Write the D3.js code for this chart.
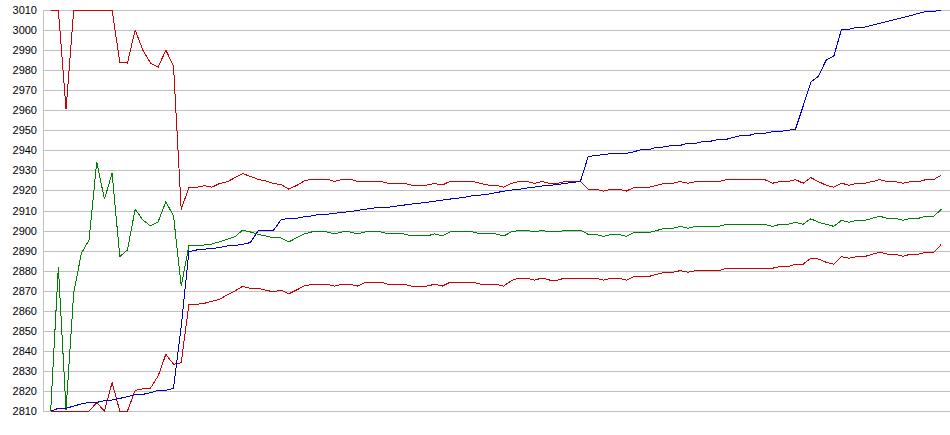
<!DOCTYPE html>
<html>
<head>
<meta charset="utf-8">
<script src="https://cdn.jsdelivr.net/npm/d3@7"></script>
<style>
  body { margin: 0; background: #fff; }
  .axis text { font-family: "Liberation Sans", Arial, sans-serif; font-size: 11px; fill: #000; }
  .axis line, .axis path { stroke: #c0c0c0; shape-rendering: crispEdges; }
  .series { fill: none; stroke-width: 1; shape-rendering: crispEdges; }
</style>
</head>
<body>
<script>
// tick labels on the value axis
var yTicks = [2810, 2820, 2830, 2840, 2850, 2860, 2870, 2880, 2890, 2900, 2910,
              2920, 2930, 2940, 2950, 2960, 2970, 2980, 2990, 3000, 3010];

// upper band (red)
var upperBand = [3010, 3010, 2960.5, 3010, 3010, 3010, 3010, 3010, 3010, 2984,
  2983.5, 3000, 2990, 2983.5, 2981.5, 2990, 2982, 2910.5, 2921.5, 2921.5,
  2922.4, 2921.6, 2923.5, 2924.3, 2926.4, 2928.4, 2927, 2925.6, 2924.7, 2923.5,
  2922.9, 2920.7, 2922.4, 2924.7, 2925.6, 2925.6, 2925.6, 2924.5, 2925.6, 2925.6,
  2924.5, 2924.5, 2924.5, 2924.5, 2923.5, 2923.5, 2923.5, 2922.7, 2922.7, 2922.7,
  2923.5, 2922.7, 2924.5, 2924.5, 2924.5, 2924.5, 2923.5, 2922.7, 2922.7, 2921.6,
  2923.5, 2924.5, 2924.5, 2923.5, 2924.5, 2923.5, 2923.5, 2924.5, 2924.5, 2924.5,
  2920.7, 2920.6, 2919.7, 2920.6, 2920.6, 2919.7, 2921.6, 2921.6, 2921.6, 2922.6,
  2923.6, 2923.6, 2924.4, 2923.6, 2924.4, 2924.4, 2924.4, 2924.4, 2925.4, 2925.4,
  2925.4, 2925.4, 2925.4, 2925.4, 2923.6, 2924.4, 2924.4, 2925.4, 2923.6, 2926.4,
  2924.4, 2922.6, 2921.6, 2923.6, 2922.6, 2923.6, 2923.6, 2924.4, 2925.4, 2924.4,
  2924.4, 2923.6, 2924.4, 2924.4, 2925.4, 2925.4, 2927.7];

// middle band (green)
var middleBand = [2810, 2882, 2810.5, 2869, 2888.6, 2895.3, 2934.3, 2915.6, 2928.6, 2887,
  2890.3, 2910.6, 2905.3, 2902.3, 2904.4, 2914.4, 2907.3, 2872.3, 2892.3, 2892.3,
  2892.8, 2893.3, 2894.4, 2895.6, 2896.9, 2900.2, 2899.3, 2898.1, 2897.3, 2896.3,
  2896.3, 2894.3, 2896.3, 2898.3, 2899.3, 2899.3, 2899.3, 2898.3, 2899.3, 2899.3,
  2898.3, 2899.3, 2899.3, 2899.3, 2898.3, 2898.3, 2898.3, 2897.3, 2897.3, 2897.3,
  2898.3, 2897.3, 2899.3, 2899.3, 2899.3, 2899.3, 2898.3, 2898.3, 2898.3, 2897.3,
  2899.3, 2900.1, 2900.1, 2899.3, 2900.1, 2899.3, 2899.3, 2900.1, 2900.1, 2900.2,
  2898.1, 2898.1, 2897.1, 2898.1, 2898.1, 2897.1, 2899.1, 2899.1, 2899.1, 2900.1,
  2901.1, 2901.1, 2902.1, 2901.1, 2902.1, 2902.1, 2902.1, 2902.1, 2903.1, 2903.1,
  2903.1, 2903.1, 2903.1, 2903.1, 2902.1, 2903.1, 2903.1, 2904.1, 2903.1, 2905.9,
  2904.1, 2903.1, 2902.1, 2905.1, 2904.1, 2905.1, 2905.1, 2906.1, 2907.1, 2906.1,
  2906.1, 2905.1, 2906.1, 2906.1, 2907.1, 2907.1, 2910.6];

// lower band (red)
var lowerBand = [2810, 2810, 2810, 2810, 2810, 2810, 2814.1, 2810, 2824.2, 2810,
  2810, 2820.3, 2821, 2821.4, 2827.5, 2838.3, 2833.3, 2834.1, 2863.2, 2863.2,
  2863.7, 2864.7, 2865.7, 2867.9, 2869.9, 2872.2, 2871.2, 2871.2, 2870.3, 2869.4,
  2870.3, 2868.4, 2870.3, 2872.3, 2873.2, 2873.2, 2873.2, 2872.3, 2873.2, 2873.2,
  2872.3, 2874.2, 2874.2, 2874.2, 2873.2, 2873.2, 2873.2, 2872.3, 2872.3, 2872.3,
  2873.2, 2872.3, 2874.2, 2874.2, 2874.2, 2874.2, 2873.2, 2873.2, 2873.2, 2872.3,
  2875, 2876.3, 2876.3, 2875.3, 2876.3, 2875.3, 2875.3, 2876.3, 2876.3, 2876.2,
  2876.2, 2876.2, 2875.3, 2876.2, 2876.2, 2875.3, 2877.2, 2877.2, 2877.2, 2878.2,
  2879.2, 2879.2, 2880, 2879.2, 2880, 2880, 2880, 2880, 2881.2, 2881.2,
  2881.2, 2881.2, 2881.2, 2881.2, 2881.2, 2882, 2882, 2883.2, 2883.2, 2886.2,
  2885.8, 2884.2, 2883.2, 2887, 2886.2, 2887, 2887, 2888.2, 2889.2, 2888.2,
  2888.2, 2887.2, 2888.2, 2888.2, 2889.2, 2889.2, 2893.1];

// price (blue)
var price = [2810, 2811.3, 2811.3, 2812.5, 2813.5, 2814.3, 2814.3, 2815.1, 2815.5, 2816.3,
  2817.1, 2818.3, 2818.3, 2819.1, 2820.3, 2820.3, 2821.3, 2852, 2889.5, 2890.3,
  2890.7, 2891.1, 2891.5, 2892.3, 2892.6, 2893.1, 2894, 2899.8, 2900.1, 2900.1,
  2905.3, 2906.1, 2906.1, 2906.9, 2907.3, 2908.1, 2908.1, 2908.6, 2909.1, 2909.4,
  2910.1, 2910.6, 2911.2, 2911.6, 2911.6, 2912.2, 2912.7, 2913.2, 2913.6, 2914.1,
  2914.6, 2915.2, 2915.7, 2916.1, 2916.7, 2917.4, 2917.7, 2918.2, 2918.9, 2919.6,
  2920.2, 2920.6, 2921.2, 2921.7, 2922.2, 2922.6, 2922.9, 2923.6, 2923.9, 2924.6,
  2936.8, 2937.5, 2937.8, 2938.5, 2938.5, 2938.5, 2939.3, 2940.5, 2940.5, 2941.6,
  2941.7, 2942.5, 2942.5, 2943.5, 2943.5, 2944.5, 2944.6, 2945.5, 2945.5, 2946.5,
  2947.5, 2947.5, 2948.5, 2948.5, 2949.3, 2949.4, 2950, 2950.5, 2962, 2974,
  2977, 2985, 2987, 3000.4, 3000.4, 3001.4, 3001.4, 3002.4, 3003.4, 3004.3,
  3005.3, 3006.2, 3007.2, 3008.3, 3009.3, 3009.3, 3010];

//Setup
var chartW = 950, chartH = 435;
var plotLeft = 43, plotRight = 950, plotTop = 10, plotBottom = 411;

var svg = d3.select('body').append('svg')
    .attr('width', chartW)
    .attr('height', chartH);

var x = d3.scalePoint()
    .domain(d3.range(price.length))
    .range([plotLeft, 949])
    .padding(1);

var y = d3.scaleLinear()
    .domain([yTicks[0], yTicks[yTicks.length - 1]])
    .range([plotBottom, plotTop]);

//Axis + gridlines
svg.append('g')
   .attr('class', 'axis axis--y')
   .attr('transform', 'translate(' + plotLeft + ',0)')
   .call(d3.axisLeft(y)
        .tickValues(yTicks)
        .tickFormat(d3.format('d'))
        .tickSize(-(plotRight - plotLeft))
        .tickSizeOuter(0)
        .tickPadding(6));

//Series
var line = d3.line()
    .x(function(d, i) { return x(i); })
    .y(function(d) { return y(d); });

var series = [
    { values: upperBand, color: '#cc0000' },
    { values: lowerBand, color: '#cc0000' },
    { values: middleBand, color: '#008000' },
    { values: price, color: '#0000cc' }
];

svg.selectAll('path.series')
   .data(series).enter()
   .append('path')
   .attr('class', 'series')
   .attr('d', function(s) { return line(s.values); })
   .style('stroke', function(s) { return s.color; });
</script>
</body>
</html>
